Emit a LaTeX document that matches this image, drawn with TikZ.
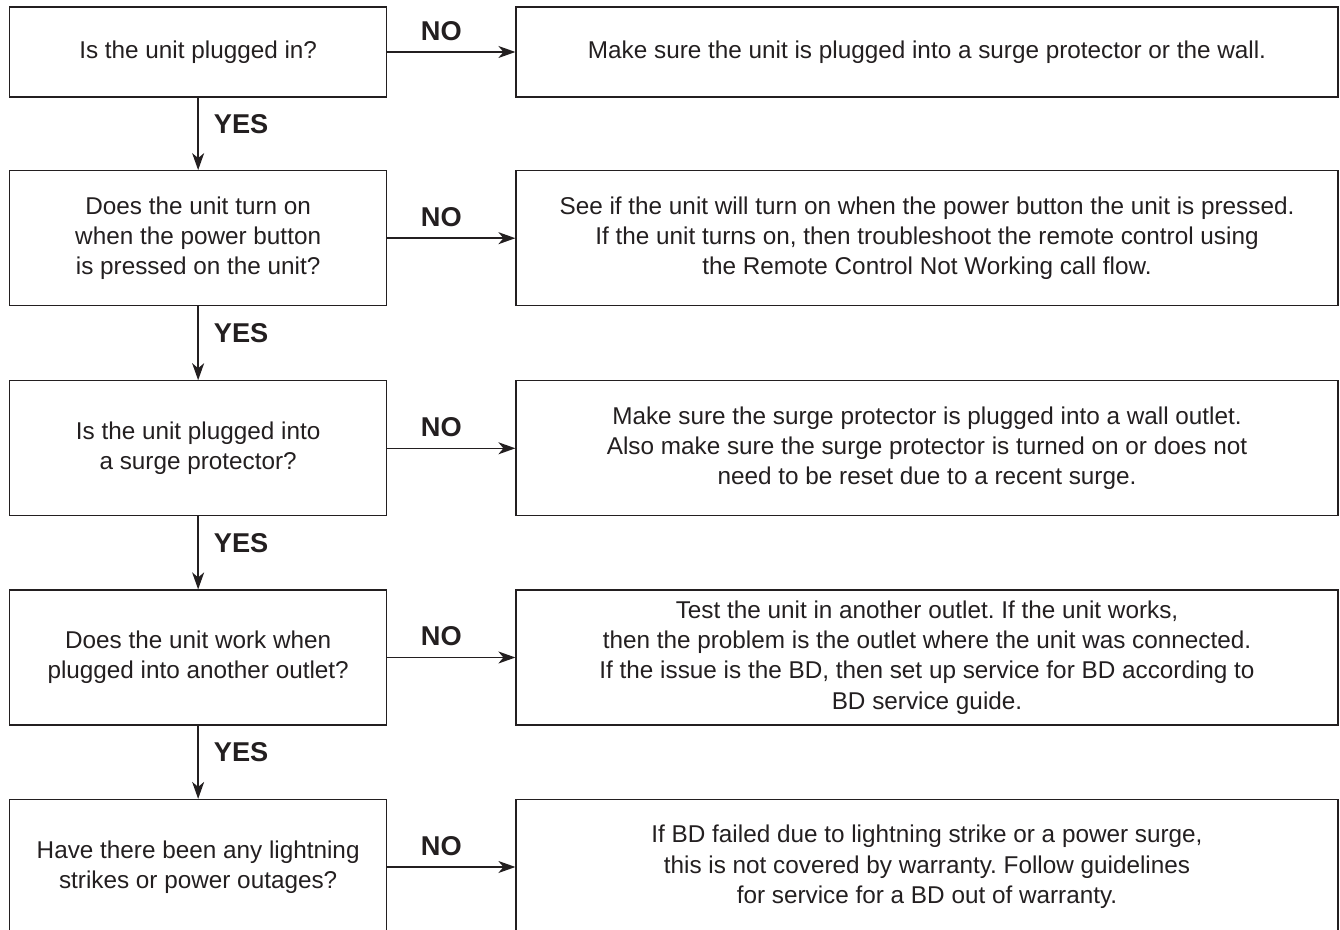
\documentclass[tikz,border=0pt]{standalone}
\usepackage{fontspec}
\setmainfont{Liberation Sans}
\usetikzlibrary{arrows.meta}

\definecolor{ink}{HTML}{231F20}
\frenchspacing

\begin{document}
\begin{tikzpicture}[x=0.5pt,y=-0.5pt]

        \clip (0,0) rectangle (1340,930);

        \begin{scope}[every node/.style={draw=ink,line width=0.6pt,text=ink,align=center,inner sep=0pt,
                      font=\fontsize{12.15}{15.2}\selectfont,minimum height=67.5pt}]
          % questions
          \begin{scope}[every node/.append style={minimum width=188.5pt}]
            \node (q1) at (198.15,52)    [minimum height=45pt] {Is the unit plugged in?};
            \node (q2) at (198.15,238.2) {Does the unit turn on\\when the power button\\is pressed on the unit?};
            \node (q3) at (198.15,448.3) {Is the unit plugged into\\a surge protector?};
            \node (q4) at (198.15,657.5) {Does the unit work when\\plugged into another outlet?};
            \node (q5) at (198.15,867)   {Have there been any lightning\\strikes or power outages?};
          \end{scope}
          % answers
          \begin{scope}[every node/.append style={minimum width=411pt}]
            \node (a1) at (927,52)    [minimum height=45pt] {Make sure the unit is plugged into a surge protector or the wall.};
            \node (a2) at (927,238.2) {See if the unit will turn on when the power button the unit is pressed.\\If the unit turns on, then troubleshoot the remote control using\\the Remote Control Not Working call flow.};
            \node (a3) at (927,448.3) {Make sure the surge protector is plugged into a wall outlet.\\Also make sure the surge protector is turned on or does not\\need to be reset due to a recent surge.};
            \node (a4) at (927,657.5) {Test the unit in another outlet. If the unit works,\\then the problem is the outlet where the unit was connected.\\If the issue is the BD, then set up service for BD according to\\BD service guide.};
            \node (a5) at (927,867)   {If BD failed due to lightning strike or a power surge,\\this is not covered by warranty. Follow guidelines\\for service for a BD out of warranty.};
          \end{scope}
        \end{scope}

        \begin{scope}[every node/.style={text=ink,font=\fontsize{13.6}{16}\selectfont\bfseries}]
          \begin{scope}[every edge/.style={draw=ink,line width=0.75pt,-{Stealth[length=8.5pt,width=6pt,inset=2.5pt]}}]
            \path (q1) edge node[xshift=-5pt,yshift=10.5pt] {NO} (a1);
            \path (q2) edge node[xshift=-5pt,yshift=10.5pt] {NO} (a2);
            \path (q3) edge node[xshift=-5pt,yshift=10.5pt] {NO} (a3);
            \path (q4) edge node[xshift=-5pt,yshift=10.5pt] {NO} (a4);
            \path (q5) edge node[xshift=-5pt,yshift=10.5pt] {NO} (a5);
            \path (q1) edge node[xshift=21.5pt,yshift=5pt] {YES} (q2);
            \path (q2) edge node[xshift=21.5pt,yshift=5pt] {YES} (q3);
            \path (q3) edge node[xshift=21.5pt,yshift=5pt] {YES} (q4);
            \path (q4) edge node[xshift=21.5pt,yshift=5pt] {YES} (q5);
          \end{scope}
        \end{scope}

      \end{tikzpicture}
\end{document}
